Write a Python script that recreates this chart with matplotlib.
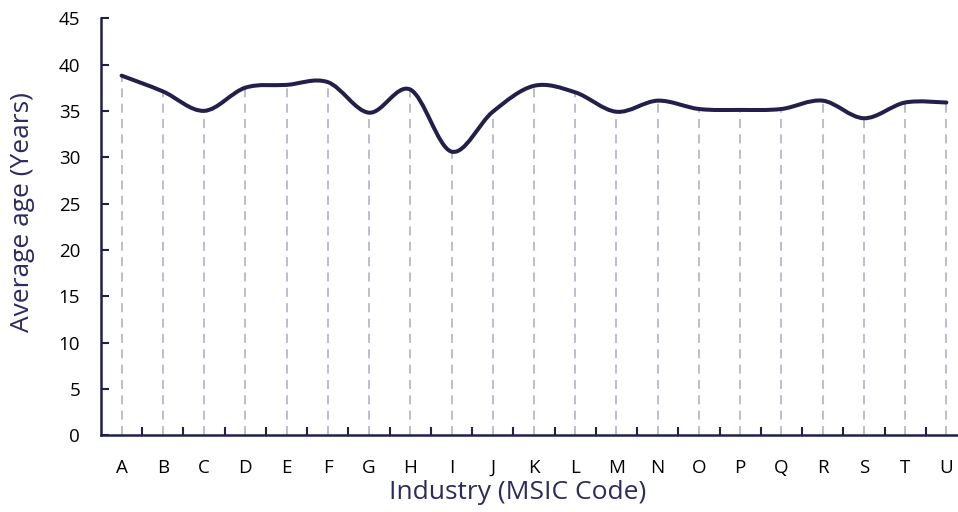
import numpy as np
import matplotlib
matplotlib.use("Agg")
import matplotlib.pyplot as plt
from matplotlib.path import Path
from matplotlib.patches import PathPatch

# data
industries = list("ABCDEFGHIJKLMNOPQRSTU")
avg_age = [38.8, 37.1, 35.0, 37.5, 37.8, 38.1, 34.8, 37.3, 30.6, 34.9, 37.7,
           37.0, 34.9, 36.1, 35.2, 35.1, 35.2, 36.1, 34.2, 35.9, 35.9]
yticks = list(range(0, 50, 5))

navy = "#22204a"
grey = "#b9b8c9"
label_col = "#2c2b5e"

plt.rcParams["font.family"] = ["Open Sans", "DejaVu Sans"]

fig = plt.figure(figsize=(9.58, 5.12), dpi=100)
ax = fig.add_axes([0.1054, 0.150, 0.904, 0.8145])

x = np.arange(len(industries))
y = np.array(avg_age)

# dashed drop lines
ax.vlines(x, 0, y, colors=grey, linestyles=(0, (5, 3.5)), linewidth=1.3, zorder=1)

# smoothed line (Catmull-Rom style bezier, like spreadsheet smoothing)
verts = [(x[0], y[0])]
codes = [Path.MOVETO]
n = len(x)
for i in range(n - 1):
    p0 = (x[max(i - 1, 0)], y[max(i - 1, 0)])
    p1 = (x[i], y[i])
    p2 = (x[i + 1], y[i + 1])
    p3 = (x[min(i + 2, n - 1)], y[min(i + 2, n - 1)])
    c1 = (p1[0] + (p2[0] - p0[0]) / 6, p1[1] + (p2[1] - p0[1]) / 6)
    c2 = (p2[0] - (p3[0] - p1[0]) / 6, p2[1] - (p3[1] - p1[1]) / 6)
    verts += [c1, c2, p2]
    codes += [Path.CURVE4] * 3
ax.add_patch(PathPatch(Path(verts, codes), fill=False, edgecolor=navy,
                       linewidth=2.9, capstyle="round", joinstyle="round", zorder=3))

ax.set_xlim(-0.5, len(industries) - 0.5)
ax.set_ylim(0, 45)
ax.set_yticks(yticks)
ax.set_xticks(x)
ax.set_xticklabels(industries)
ax.set_xticks(x[:-1] + 0.5, minor=True)

for s in ["top", "right"]:
    ax.spines[s].set_visible(False)
for s in ["left", "bottom"]:
    ax.spines[s].set_color(navy)
    ax.spines[s].set_linewidth(1.8)

ax.tick_params(axis="y", direction="in", length=6, width=1.5, color=navy,
               labelsize=13.5, pad=15)
ax.tick_params(axis="x", which="major", length=0, labelsize=13.5, pad=17)
ax.tick_params(axis="x", which="minor", direction="in", length=6, width=1.5, color=navy)

ax.set_xlabel("Industry (MSIC Code)", fontsize=19, color=label_col)
ax.set_ylabel("Average age (Years)", fontsize=19, color=label_col)
ax.xaxis.set_label_coords(0.481, -0.108)
ax.yaxis.set_label_coords(-0.076, 0.535)

fig.savefig("out.png", dpi=100)
